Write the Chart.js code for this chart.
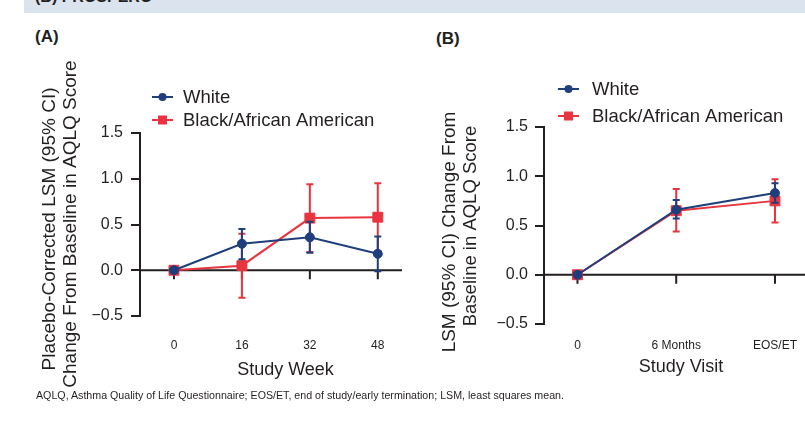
<!DOCTYPE html>
<html>
<head>
<meta charset="utf-8">
<script src="https://cdn.jsdelivr.net/npm/chart.js@4.4.1/dist/chart.umd.min.js"></script>
<style>
  html, body { margin: 0; padding: 0; background: #ffffff; }
  body { width: 805px; height: 429px; position: relative; overflow: hidden;
         font-family: "Liberation Sans", Arial, Helvetica, sans-serif; color: #231f20; }
  #band { position: absolute; left: 24px; top: 0; width: 781px; height: 13px;
          background: #dbe4ee; overflow: hidden; }
  #band span { position: absolute; left: 11px; top: -11px; font-weight: bold;
               font-size: 16px; line-height: 16px; white-space: nowrap; }
  .panel { position: absolute; font-weight: bold; font-size: 17px; line-height: 17px; }
  #foot { position: absolute; left: 36px; top: 390px; font-size: 10px; line-height: 12px;
          white-space: nowrap; transform-origin: 0 0;
          font-family: "Liberation Sans Narrow", "Liberation Sans", Arial, sans-serif; }
  canvas { position: absolute; top: 0; }
  #chartA { left: 0; }
  #chartB { left: 420px; }
</style>
</head>
<body>
<div id="band"><span>(B) PROSPERO</span></div>
<div class="panel" style="left:35px;top:28px;">(A)</div>
<div class="panel" style="left:436px;top:30px;">(B)</div>
<canvas id="chartA" width="420" height="429" style="width:420px;height:429px"></canvas>
<canvas id="chartB" width="400" height="429" style="width:400px;height:429px"></canvas>
<div id="foot">AQLQ, Asthma Quality of Life Questionnaire; EOS/ET, end of study/early termination; LSM, least squares mean.</div>

<script>
// ---- (A) placebo-corrected LSM change by study week ----
const weeks = [0, 16, 32, 48];
const weekLabels = ['0', '16', '32', '48'];
const whiteWeek     = [0, 0.29, 0.36, 0.18];
const whiteWeekLow  = [0, 0.12, 0.19, -0.01];
const whiteWeekHigh = [0, 0.45, 0.53, 0.37];
const blackWeek     = [0, 0.05, 0.57, 0.58];
const blackWeekLow  = [0, -0.30, 0.20, 0.21];
const blackWeekHigh = [0, 0.40, 0.94, 0.95];

// ---- (B) LSM change by study visit ----
const visits = [0, 1, 2];
const visitLabels = ['0', '6 Months', 'EOS/ET'];
const whiteVisit     = [0, 0.66, 0.83];
const whiteVisitLow  = [0, 0.57, 0.73];
const whiteVisitHigh = [0, 0.76, 0.93];
const blackVisit     = [0, 0.65, 0.75];
const blackVisitLow  = [0, 0.44, 0.53];
const blackVisitHigh = [0, 0.87, 0.97];

const yTicks = [-0.5, 0, 0.5, 1.0, 1.5];
const seriesNames = ['White', 'Black/African American'];

const BLUE = '#1f3e7c';
const RED = '#e8343f';
const INK = '#231f20';
const FONT = '"Liberation Sans", Arial, Helvetica, sans-serif';

// footnote squeezed to its printed width
(function () {
  const f = document.getElementById('foot');
  const w = f.getBoundingClientRect().width;
  f.style.transform = 'scaleX(' + (528 / w) + ')';
})();

function points(xs, ys) { return xs.map((x, i) => ({ x: x, y: ys[i] })); }

// confidence-interval whiskers, drawn just before each dataset so later series sit on top
const errorBars = {
  id: 'errorBars',
  beforeDatasetDraw(chart, args) {
    const ds = chart.data.datasets[args.index];
    if (!ds.low) return;
    const { ctx } = chart;
    const xs = chart.scales.x, ys = chart.scales.y;
    ctx.save();
    ctx.strokeStyle = ds.borderColor;
    ctx.lineWidth = 2;
    ctx.lineCap = 'butt';
    ds.data.forEach((p, i) => {
      const lo = ds.low[i], hi = ds.high[i];
      if (lo === hi) return;
      const x = xs.getPixelForValue(p.x);
      const yl = ys.getPixelForValue(lo), yh = ys.getPixelForValue(hi);
      ctx.beginPath();
      ctx.moveTo(x, yl); ctx.lineTo(x, yh);
      ctx.moveTo(x - 3.5, yl); ctx.lineTo(x + 3.5, yl);
      ctx.moveTo(x - 3.5, yh); ctx.lineTo(x + 3.5, yh);
      ctx.stroke();
    });
    ctx.restore();
  }
};

// horizontal axis running through zero with downward tick marks
const zeroAxis = {
  id: 'zeroAxis',
  beforeDatasetsDraw(chart) {
    const { ctx, chartArea } = chart;
    const xs = chart.scales.x, ys = chart.scales.y;
    const y0 = ys.getPixelForValue(0);
    ctx.save();
    ctx.strokeStyle = INK;
    ctx.lineWidth = 2;
    ctx.beginPath();
    ctx.moveTo(chartArea.left, y0);
    ctx.lineTo(chartArea.right, y0);
    xs.ticks.forEach(t => {
      const x = xs.getPixelForValue(t.value);
      ctx.moveTo(x, y0);
      ctx.lineTo(x, y0 + 9);
    });
    ctx.stroke();
    ctx.restore();
  }
};

// legend rows and axis titles
const panelText = {
  id: 'panelText',
  afterDraw(chart, args, opts) {
    const { ctx } = chart;
    ctx.save();
    const lg = opts.legend;
    chart.data.datasets.forEach((ds, i) => {
      const y = lg.rows[i];
      ctx.strokeStyle = ds.borderColor;
      ctx.fillStyle = ds.borderColor;
      ctx.lineWidth = 2;
      ctx.beginPath();
      ctx.moveTo(lg.x, y); ctx.lineTo(lg.x + 21, y);
      ctx.stroke();
      const cx = lg.x + 10.5;
      if (ds.pointStyle === 'rect') {
        ctx.fillRect(cx - 4.5, y - 4.5, 9, 9);
      } else {
        ctx.beginPath(); ctx.arc(cx, y, 4, 0, Math.PI * 2); ctx.fill();
      }
      ctx.fillStyle = INK;
      ctx.font = '18.5px ' + FONT;
      ctx.textAlign = 'left';
      ctx.textBaseline = 'middle';
      ctx.fillText(ds.label, lg.textX, y + 1);
    });
    ctx.fillStyle = INK;
    ctx.textAlign = 'center';
    opts.titles.forEach(t => {
      ctx.save();
      ctx.font = (t.size || 18) + 'px ' + FONT;
      ctx.translate(t.x, t.y);
      if (t.rotate) ctx.rotate(-Math.PI / 2);
      ctx.textBaseline = t.rotate ? 'middle' : 'alphabetic';
      ctx.fillText(t.text, 0, 0);
      ctx.restore();
    });
    ctx.restore();
  }
};

function buildChart(id, cfg) {
  const datasets = [
    { label: seriesNames[0], data: points(cfg.xs, cfg.white), low: cfg.whiteLow, high: cfg.whiteHigh,
      borderColor: BLUE, backgroundColor: BLUE, borderWidth: 2, pointStyle: 'circle',
      pointRadius: 4.5, pointBorderWidth: 1, pointBackgroundColor: BLUE, tension: 0 },
    { label: seriesNames[1], data: points(cfg.xs, cfg.black), low: cfg.blackLow, high: cfg.blackHigh,
      borderColor: RED, backgroundColor: RED, borderWidth: 2, pointStyle: 'rect',
      pointRadius: 7, pointBorderWidth: 1, pointBackgroundColor: RED, tension: 0 }
  ];
  return new Chart(document.getElementById(id), {
    type: 'line',
    data: { datasets },
    plugins: [errorBars, zeroAxis, panelText],
    options: {
      responsive: false,
      animation: false,
      events: [],
      layout: { padding: cfg.padding },
      plugins: {
        legend: { display: false },
        tooltip: { enabled: false },
        panelText: { legend: cfg.legend, titles: cfg.titles }
      },
      scales: {
        x: {
          type: 'linear',
          min: cfg.xMin, max: cfg.xMax,
          grid: { display: false, drawTicks: false },
          border: { display: false },
          afterBuildTicks: s => { s.ticks = cfg.xs.map(v => ({ value: v })); },
          afterFit: s => { s.height = cfg.xHeight; },
          ticks: {
            padding: cfg.xPad, color: INK, maxRotation: 0, autoSkip: false,
            font: { family: FONT, size: 12 },
            callback: (v) => cfg.xLabels[cfg.xs.indexOf(v)]
          }
        },
        y: {
          type: 'linear',
          min: -0.5, max: 1.5,
          afterBuildTicks: s => { s.ticks = yTicks.map(v => ({ value: v })); },
          afterFit: s => { s.width = cfg.yWidth; },
          grid: { drawOnChartArea: false, drawTicks: true, tickLength: 9, color: INK, lineWidth: 2 },
          border: { display: true, color: INK, width: 2 },
          ticks: {
            padding: cfg.yPad, color: INK,
            font: { family: FONT, size: 16 },
            callback: v => v.toFixed(1).replace('-', '\u2212')
          }
        }
      }
    }
  });
}

buildChart('chartA', {
  xs: weeks, xLabels: weekLabels,
  white: whiteWeek, whiteLow: whiteWeekLow, whiteHigh: whiteWeekHigh,
  black: blackWeek, blackLow: blackWeekLow, blackHigh: blackWeekHigh,
  xMin: -8, xMax: 53.7,
  padding: { left: 0, top: 133, right: 18, bottom: 0 },
  yWidth: 140, xHeight: 113, xPad: 22, yPad: 8,
  legend: { x: 152, textX: 183, rows: [97, 120] },
  titles: [
    { text: 'Placebo-Corrected LSM (95% CI)', x: 50, y: 229, rotate: true, size: 19 },
    { text: 'Change From Baseline in AQLQ Score', x: 71, y: 224, rotate: true, size: 19 },
    { text: 'Study Week', x: 285.5, y: 375, rotate: false }
  ]
});

buildChart('chartB', {
  xs: visits, xLabels: visitLabels,
  white: whiteVisit, whiteLow: whiteVisitLow, whiteHigh: whiteVisitHigh,
  black: blackVisit, blackLow: blackVisitLow, blackHigh: blackVisitHigh,
  xMin: -0.339, xMax: 2.304,
  padding: { left: 0, top: 127, right: 15, bottom: 0 },
  yWidth: 124, xHeight: 105, xPad: 14, yPad: 7,
  legend: { x: 138, textX: 172, rows: [89, 116] },
  titles: [
    { text: 'LSM (95% CI) Change From', x: 30, y: 232, rotate: true, size: 19 },
    { text: 'Baseline in AQLQ Score', x: 51, y: 226, rotate: true, size: 18.5 },
    { text: 'Study Visit', x: 261, y: 372, rotate: false }
  ]
});
</script>
</body>
</html>
